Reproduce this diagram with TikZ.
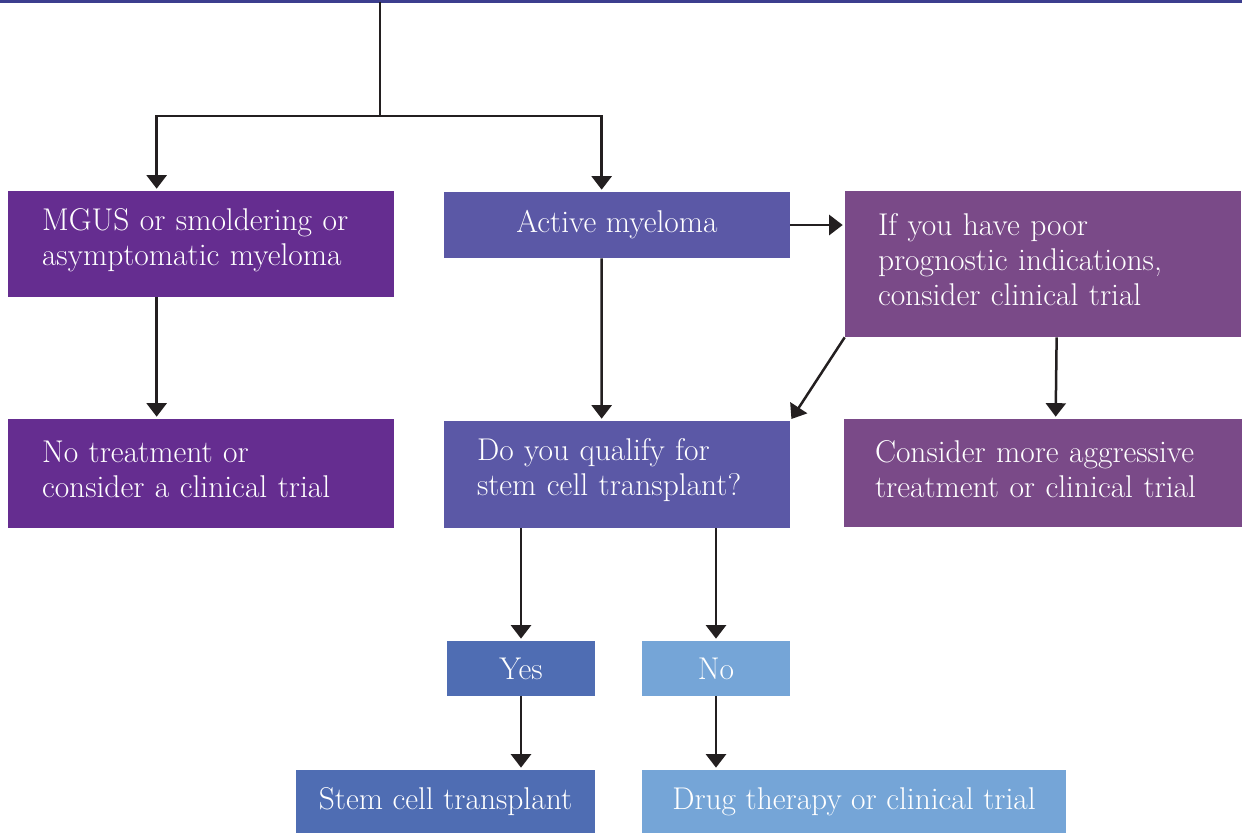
\documentclass[tikz,border=0pt]{standalone}
\usepackage{amsmath}
\usepackage{xcolor}
\usetikzlibrary{arrows.meta}
\definecolor{mgusfill}{RGB}{101,45,144}
\definecolor{activefill}{RGB}{91,88,166}
\definecolor{poorfill}{RGB}{122,74,136}
\definecolor{yesfill}{RGB}{79,109,179}
\definecolor{nofill}{RGB}{117,165,215}
\definecolor{toprule}{RGB}{60,62,142}
\definecolor{arrowink}{RGB}{35,31,32}
\newcommand{\boxlift}{\endgraf\nointerlineskip\vskip0.17cm\hbox{}}

\begin{document}
\begin{tikzpicture}[x=0.02cm,y=-0.02cm]
\tikzstyle{every node}+=[inner sep=0pt]
\tikzstyle{box}=[rectangle, text=white, inner ysep=0pt, font=\fontsize{17.9}{19.9}\selectfont]
\tikzstyle{lbox}=[box, align=left, inner xsep=0.68cm, execute at end node=\boxlift]
\tikzstyle{cbox}=[box, align=center]
\tikzstyle{flow}=[arrowink, line width=0.05cm, -{Triangle[width=0.4cm,length=0.27cm]}, shorten >=0.04cm]
\useasboundingbox (0,0) rectangle (1242,833);
\fill [toprule] (0,0) rectangle (1242,2.5);
\node [lbox, fill=mgusfill, text width=6.36cm, minimum height=2.12cm] (mgus) at (201,244) {MGUS or smoldering or\\asymptomatic myeloma};
\node [cbox, fill=activefill, minimum width=6.92cm, minimum height=1.32cm] (active) at (617,225) {Active myeloma};
\node [lbox, fill=poorfill, text width=6.6cm, minimum height=2.92cm, inner xsep=0.66cm] (poor) at (1043,264) {If you have poor\\prognostic indications,\\consider clinical trial};
\node [lbox, fill=mgusfill, text width=6.36cm, minimum height=2.18cm] (notreat) at (201,473.5) {No treatment or\\consider a clinical trial};
\node [lbox, fill=activefill, text width=5.6cm, minimum height=2.14cm, inner xsep=0.66cm] (qualify) at (617,474.5) {Do you qualify for\\stem cell transplant?};
\node [lbox, fill=poorfill, text width=6.72cm, minimum height=2.16cm, inner xsep=0.62cm] (aggressive) at (1043,473) {Consider more aggressive\\treatment or clinical trial};
\node [cbox, fill=yesfill, minimum width=2.96cm, minimum height=1.1cm] (yes) at (521,668.5) {Yes};
\node [cbox, fill=nofill, minimum width=2.96cm, minimum height=1.1cm] (no) at (716,668.5) {No};
\node [cbox, fill=yesfill, minimum width=5.98cm, minimum height=1.26cm] (stem) at (445.5,801.5) {Stem cell transplant};
\node [cbox, fill=nofill, minimum width=8.48cm, minimum height=1.26cm] (drug) at (854,801.5) {Drug therapy or clinical trial};
\coordinate (start) at (380,2);
\coordinate (split) at (380,116);
\draw [arrowink, line width=0.05cm] (start) -- (split);
\draw [flow] (split) -| ([xshift=2.98cm]mgus.north west);
\draw [flow] (split) -| ([xshift=3.16cm]active.north west);
\draw [flow] (active.east) -- (active.east -| poor.west);
\draw [flow] ([xshift=2.98cm]mgus.south west) -- ([xshift=2.98cm]notreat.north west);
\draw [flow] ([xshift=3.16cm]active.south west) -- ([xshift=3.16cm]qualify.north west);
\draw [flow] ([xshift=4.24cm]poor.south west) -- ([xshift=4.24cm]aggressive.north west);
\draw [flow] (poor.south west) -- (qualify.north east);
\draw [flow] (qualify.south -| yes.north) -- (yes.north);
\draw [flow] (qualify.south -| no.north) -- (no.north);
\draw [flow] (yes.south) -- (yes.south |- stem.north);
\draw [flow] (no.south) -- (no.south |- drug.north);
\end{tikzpicture}
\end{document}
